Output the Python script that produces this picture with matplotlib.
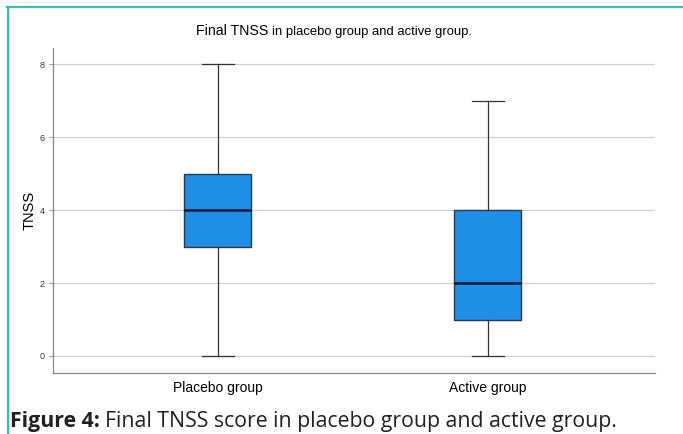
import matplotlib
matplotlib.use("Agg")
import matplotlib.pyplot as plt
from matplotlib.lines import Line2D

groups = ["Placebo group", "Active group"]
mins = [0, 0]
q1s = [3, 1]
medians = [4, 2]
q3s = [5, 4]
maxs = [8, 7]
yticks = [0, 2, 4, 6, 8]

plt.rcParams['font.family'] = ['Liberation Sans', 'DejaVu Sans']

fig = plt.figure(figsize=(6.83, 4.34), dpi=100)
ax = fig.add_axes([53/683, 1-373/434, 602/683, (373-48)/434])

stats = []
for g, lo, a, m, b, hi in zip(groups, mins, q1s, medians, q3s, maxs):
    stats.append(dict(label=g, whislo=lo, q1=a, med=m, q3=b, whishi=hi, fliers=[]))

ax.bxp(stats, positions=[1, 2], widths=0.248, capwidths=0.119, patch_artist=True,
       boxprops=dict(facecolor='#1f8fe6', edgecolor='#2a3a4a', linewidth=1.0),
       medianprops=dict(color='#0a1830', linewidth=1.8),
       whiskerprops=dict(color='#333333', linewidth=0.9),
       capprops=dict(color='#333333', linewidth=0.9), zorder=3)

ax.set_xlim(0.389, 2.619)
ax.set_ylim(-0.466, 8.44)
ax.set_yticks(yticks)
ax.set_yticklabels([str(t) for t in yticks], fontsize=6.5, color='#333333')
ax.yaxis.grid(True, color='#d0d0d0', linewidth=0.9, zorder=0)
ax.set_axisbelow(True)
ax.tick_params(axis='y', length=3, width=0.6, color='#888888', pad=3)
ax.tick_params(axis='x', length=0, labelsize=10, pad=6)
ax.set_xticks([1, 2])
ax.set_xticklabels(groups)
for s in ['top', 'right']:
    ax.spines[s].set_visible(False)
for s in ['left', 'bottom']:
    ax.spines[s].set_color('#888888')
    ax.spines[s].set_linewidth(0.9)
ax.set_ylabel('TNSS', fontsize=10.5, labelpad=2)

t_a = fig.text(196/683, 1-31/434, 'Final TNSS', fontsize=10.2, ha='left', va='center')
fig.canvas.draw()
bba = t_a.get_window_extent()
fig.text((bba.x1 + 4)/683, 1-31.5/434, 'in placebo group and active group.', fontsize=9.4, ha='left', va='center')

teal = '#36c0aa'
fig.add_artist(Line2D([7/683, 1], [1-6.5/434, 1-6.5/434], color=teal, linewidth=1.6, transform=fig.transFigure))
fig.add_artist(Line2D([7.5/683, 7.5/683], [0, 1-6.5/434], color=teal, linewidth=1.6, transform=fig.transFigure))

t1 = fig.text(10/683, 1-421/434, 'Figure 4:', fontsize=15.3, fontweight='bold', family='Open Sans', ha='left', va='center', color='#231f20')
fig.canvas.draw()
bb = t1.get_window_extent()
fig.text((bb.x1 + 5)/683, 1-421/434, 'Final TNSS score in placebo group and active group.', fontsize=15.3, family='Open Sans', ha='left', va='center', color='#231f20')

fig.savefig('out.png', dpi=100)
